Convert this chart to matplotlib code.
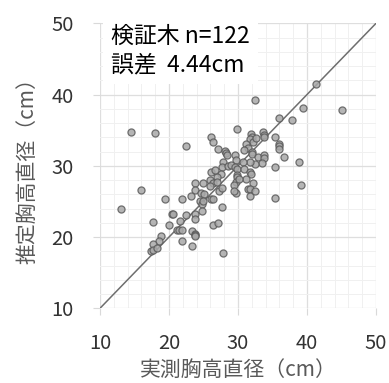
import matplotlib
matplotlib.use("Agg")
import matplotlib.pyplot as plt
from matplotlib.ticker import MultipleLocator

plt.rcParams['font.family'] = ['Noto Sans CJK JP', 'DejaVu Sans']

# measured DBH (cm) vs estimated DBH (cm), validation trees
measured = [41.3, 32.5, 39.4, 45.1, 35.9, 37.8, 14.5, 18.0, 29.8, 26.1,
            26.4, 22.5, 31.9, 32.0, 31.8, 32.2, 33.6, 33.7, 33.8, 35.4,
            31.2, 31.4, 30.9, 27.1, 28.1, 28.3, 28.4, 29.6, 29.7, 32.0,
            32.0, 32.9, 33.8, 33.8, 35.9, 35.9, 35.9, 36.6, 38.8, 35.3,
            33.5, 32.5, 31.8, 30.7, 27.8, 27.7, 28.6, 29.0, 29.5, 29.8,
            26.1, 27.5, 30.9, 31.7, 31.9, 32.2, 29.8, 29.8, 29.7, 31.1,
            26.9, 25.9, 26.4, 25.9, 24.9, 23.8, 23.8, 26.9, 27.3, 27.7,
            29.4, 29.7, 29.4, 31.4, 31.8, 31.8, 32.5, 35.4, 39.2, 15.9,
            13.1, 19.4, 21.9, 23.2, 24.6, 25.1, 26.1, 26.4, 24.5, 24.8,
            25.0, 27.7, 20.4, 20.6, 22.5, 23.8, 23.8, 24.8, 17.7, 20.0,
            21.6, 26.4, 27.1, 21.2, 21.5, 21.9, 23.4, 23.8, 23.8, 23.8,
            18.8, 18.6, 17.7, 17.4, 17.7, 18.3, 21.9, 23.3, 27.8, 26.6,
            30.1, 32.6]
estimated = [41.5, 39.2, 38.1, 37.8, 36.7, 36.5, 34.7, 34.6, 35.2, 34.1,
             33.3, 32.8, 34.5, 34.1, 33.7, 33.4, 34.8, 34.3, 34.1, 34.1,
             33.1, 32.5, 32.2, 32.4, 32.1, 31.8, 31.5, 31.5, 30.8, 31.9,
             31.7, 31.3, 31.5, 31.1, 33.1, 32.8, 32.4, 31.3, 30.6, 29.9,
             30.4, 30.3, 30.5, 30.6, 30.5, 29.9, 30.0, 30.1, 29.9, 29.6,
             29.1, 28.9, 29.5, 29.1, 28.8, 27.6, 28.7, 28.5, 27.8, 28.2,
             28.4, 28.0, 27.6, 27.1, 27.6, 27.6, 26.6, 27.8, 26.4, 26.9,
             27.3, 26.2, 26.4, 26.7, 26.7, 25.8, 26.5, 25.5, 27.3, 26.6,
             23.9, 25.3, 25.3, 25.7, 26.2, 26.1, 25.4, 25.4, 25.1, 24.7,
             25.0, 24.2, 23.3, 23.3, 23.1, 23.3, 22.6, 23.7, 22.1, 21.7,
             22.2, 21.7, 22.0, 21.0, 21.0, 21.0, 20.9, 20.5, 20.3, 20.2,
             20.2, 19.5, 19.0, 18.0, 18.2, 18.4, 19.5, 18.8, 17.7, 29.4,
             28.1, 33.9]
ticks = [10, 20, 30, 40, 50]
one_to_one = [10, 50]

fig = plt.figure(figsize=(3.89, 3.83), dpi=100)
ax = fig.add_axes([0.257, 0.195, 0.7095, 0.744])

ax.scatter(measured, estimated, s=26, facecolor='#a8a8a8', edgecolor='#5a5a5a',
           linewidth=0.9, alpha=0.85, zorder=3)
ax.plot(one_to_one, one_to_one, color='#6e6e6e', linewidth=1.1, zorder=2)

ax.set_xlim(10, 50)
ax.set_ylim(10, 50)
ax.set_xticks(ticks)
ax.set_yticks(ticks)
ax.xaxis.set_minor_locator(MultipleLocator(2))
ax.yaxis.set_minor_locator(MultipleLocator(2))
ax.grid(which='major', color='#dedede', linewidth=0.9, zorder=0)
ax.grid(which='minor', color='#f0f0f0', linewidth=0.7, zorder=0)
ax.set_axisbelow(True)
for s in ax.spines.values():
    s.set_visible(False)
ax.tick_params(which='major', length=5, color='#d9d9d9', labelsize=14.5,
               labelcolor='#333333')
ax.tick_params(axis='x', pad=13)
ax.tick_params(axis='y', pad=14)
ax.tick_params(which='minor', length=0)

ax.set_xlabel('実測胸高直径（cm）', fontsize=15, color='#595959', labelpad=3)
ax.set_ylabel('推定胸高直径（cm）', fontsize=15, color='#595959', labelpad=9)

ax.text(0.04, 0.995, '検証木 n=122\n誤差  4.44cm', transform=ax.transAxes,
        fontsize=16.5, color='black', va='top', ha='left', linespacing=1.3,
        bbox=dict(facecolor='white', edgecolor='none', pad=6), zorder=4)

fig.savefig('out.png', dpi=100)
